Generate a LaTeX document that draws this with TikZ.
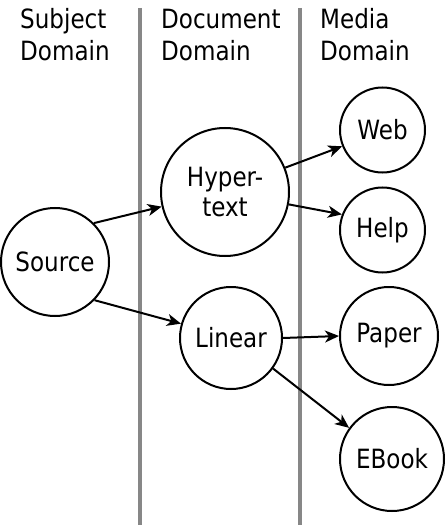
\documentclass[tikz,border=0pt]{standalone}
\usepackage{fontspec}
\setmainfont{DejaVu Sans}[FakeStretch=0.87]
\usetikzlibrary{arrows.meta}
\begin{document}
\begin{tikzpicture}[x=1pt,y=-1pt,
  dom/.style={circle,draw=black,line width=2pt,inner sep=0pt,font=\fontsize{26.5}{30}\selectfont,align=center},
  hdr/.style={anchor=base west,inner sep=0pt,font=\fontsize{26.5}{30}\selectfont},
  sep/.style={draw=black!47,line width=3.2pt},
  arr/.style={draw=black,line width=2pt,-{Stealth[length=14pt,width=12pt,inset=4pt]}}]
\useasboundingbox (0,0) rectangle (445,529);
\coordinate (l1t) at (140,8); \coordinate (l1b) at (140,525);
\coordinate (l2t) at (300,8); \coordinate (l2b) at (300,525);
\draw[sep] (l1t) -- (l1b);
\draw[sep] (l2t) -- (l2b);
\node[hdr] (h1a) at (20,29) {Subject};
\node[hdr] (h1b) at (20,61) {Domain};
\node[hdr] (h2a) at (161,29) {Document};
\node[hdr] (h2b) at (161,61) {Domain};
\node[hdr] (h3a) at (320,29) {Media};
\node[hdr] (h3b) at (320,61) {Domain};
\node[dom,minimum size=108pt] (src) at (55,262) {Source};
\node[dom,minimum size=128pt] (hyp) at (225,192) {Hyper-\\text};
\node[dom,minimum size=102pt] (lin) at (231,338) {Linear};
\node[dom,minimum size=85pt] (web) at (382.5,130) {Web};
\node[dom,minimum size=85pt] (help) at (382.5,230) {Help};
\node[dom,minimum size=98pt] (paper) at (389,336) {Paper};
\node[dom,minimum size=104pt] (ebook) at (392,459) {EBook};
\draw[arr] (src.45) -- (hyp.193);
\draw[arr] (src.-44) -- (lin.164);
\draw[arr] (hyp.22) -- (web.202);
\draw[arr] (hyp.-11) -- (help.159);
\draw[arr] (lin.0) -- (paper.180);
\draw[arr] (lin.-36) -- (ebook.144);
\end{tikzpicture}
\end{document}
